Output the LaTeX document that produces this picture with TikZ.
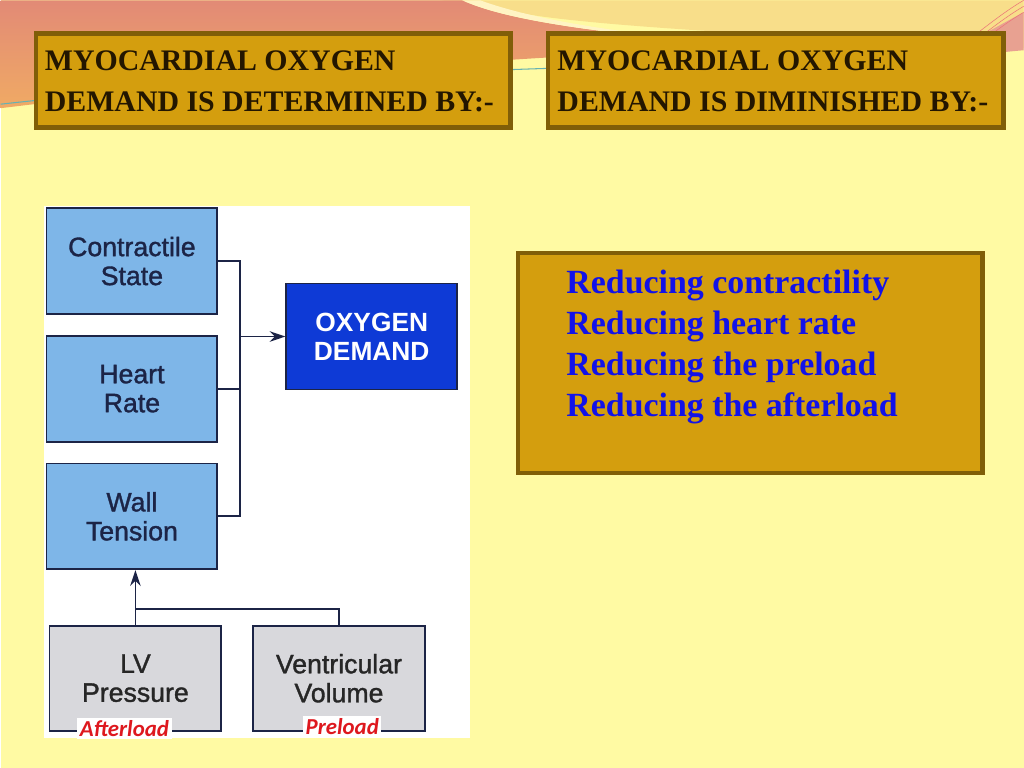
\documentclass[tikz,border=0pt]{standalone}
\usepackage{fontspec}
\newfontfamily\arialfont[FakeBold=1.3]{Liberation Sans}
\newfontfamily\arialbold{Liberation Sans Bold}
\newfontfamily\timesfont{Liberation Serif}
\newfontfamily\calibrifont{Carlito}
\definecolor{slidebg}{RGB}{255, 250, 163}
\definecolor{salmon}{RGB}{226, 138, 118}
\definecolor{peach}{RGB}{240, 170, 100}
\definecolor{sand}{RGB}{248, 222, 138}
\definecolor{cream}{RGB}{255, 244, 196}
\definecolor{gold}{RGB}{212, 158, 14}
\definecolor{goldedge}{RGB}{128, 94, 8}
\definecolor{inkbrown}{RGB}{35, 22, 0}
\definecolor{factorblue}{RGB}{126, 182, 232}
\definecolor{deepblue}{RGB}{14, 58, 214}
\definecolor{navy}{RGB}{28, 36, 70}
\definecolor{loadgray}{RGB}{216, 216, 220}
\definecolor{tagred}{RGB}{222, 24, 30}
\definecolor{textblue}{RGB}{18, 18, 232}
\usetikzlibrary{positioning,calc,arrows.meta}

\begin{document}
\begin{tikzpicture}[x=0.02cm, y=-0.02cm,
            factor/.style={rectangle, draw=navy, line width=1pt, fill=factorblue,
                minimum width=3.42cm, minimum height=2.12cm, align=center,
                text=navy, font=\arialfont\fontsize{15.2}{16.5}\selectfont},
            demandbox/.style={factor, fill=deepblue, text=white,
                font=\arialbold\fontsize{15}{16.5}\selectfont},
            loadbox/.style={factor, fill=loadgray, text=black!85,
                minimum width=3.44cm, minimum height=2.1cm},
            titlebox/.style={rectangle, draw=goldedge, line width=2.6pt, fill=gold},
            headtext/.style={anchor=north west, inner sep=0pt, align=left, text=inkbrown,
                font=\timesfont\bfseries\fontsize{17}{23.2}\selectfont},
            tag/.style={fill=white, text=tagred, inner sep=1.5pt,
                font=\calibrifont\bfseries\itshape\fontsize{13}{13}\selectfont},
            wire/.style={draw=navy, line width=1pt},
            feed/.style={wire, -{Stealth[length=9pt,width=6pt]}},
        ]

            % slide background and top swoosh
            \fill[slidebg] (0,0) rectangle (1024,768);
            \fill[sand] (440,0) -- (1024,0) -- (1024,48) .. controls (880,40) and (640,30) .. (540,16) .. controls (500,10) and (470,4) .. (440,0) -- cycle;
            \shade[top color=salmon, bottom color=peach] (0,0) -- (462,0) .. controls (510,22) and (620,36) .. (770,46) .. controls (600,54) and (380,62) .. (0,108) -- cycle;
            \fill[cream] (462,0) .. controls (510,22) and (620,36) .. (770,46) .. controls (640,36) and (540,22) .. (480,0) -- cycle;
            \fill[salmon!80] (1024,12) .. controls (990,30) and (960,48) .. (930,62) .. controls (965,56) and (1000,52) .. (1024,50) -- cycle;
            \foreach \dy in {0,6,12} {
                \draw[tagred!60, line width=0.3pt] (925,70+\dy) .. controls (960,50+\dy) and (990,20+\dy) .. (1024,0+\dy);
            }
            \draw[teal!60, line width=0.6pt] (0,104) .. controls (200,82) and (400,72) .. (620,66);

            % heading boxes
            \node [titlebox, minimum width=9.5cm, minimum height=1.88cm] (leftHead) at (273,80.5) {};
            \node [titlebox, minimum width=9.12cm, minimum height=1.88cm] (rightHead) at (776,80.5) {};
            \node [headtext] (leftTitle) at (44,50)
                  {MYOCARDIAL OXYGEN\\DEMAND IS DETERMINED BY:-};
            \node [headtext] (rightTitle) at (557,50)
                  {MYOCARDIAL OXYGEN\\DEMAND IS DIMINISHED BY:-};

            % figure panel
            \fill[white] (44,206) rectangle (470,738);

            \node [factor] (contract) at (131.5,261)          {Contractile\\State};
            \node [factor] (heart)    [below=0.4cm of contract] {Heart\\Rate};
            \node [factor] (wall)     [below=0.4cm of heart]    {Wall\\Tension};
            \node [demandbox] (demand) at (371.5,336.5)       {OXYGEN\\DEMAND};

            \node [loadbox] (lvp)  at (135,678.5)             {LV\\Pressure};
            \node [loadbox] (vvol) [right=0.6cm of lvp]       {Ventricular\\Volume};

            \draw[wire] (contract.east) -- ++(22,0) coordinate (bus) |- (wall.east);
            \draw[wire] (heart.east) -- (heart.east -| bus);
            \draw[feed] (bus |- demand.west) -- (demand.west);

            \draw[feed] (lvp.north) -- (lvp.north |- wall.south);
            \draw[wire] (vvol.north) -- ++(0,-16) coordinate (branch) -- (branch -| lvp.north);

            \node [tag] (afterload) at (124,729) {Afterload};
            \node [tag] (preload)   at (342,727) {Preload};

            % right hand list
            \node [titlebox, minimum width=9.3cm, minimum height=4.4cm] (reduceBox) at (750.5,363) {};
            \node [anchor=north west, inner sep=0pt, align=left, text=textblue,
                   font=\timesfont\bfseries\fontsize{19.3}{23.2}\selectfont] (reduce) at (566,270)
                  {Reducing contractility\\Reducing heart rate\\Reducing the preload\\Reducing the afterload};

            \useasboundingbox (0,0) rectangle (1024,768);
        \end{tikzpicture}
\end{document}
